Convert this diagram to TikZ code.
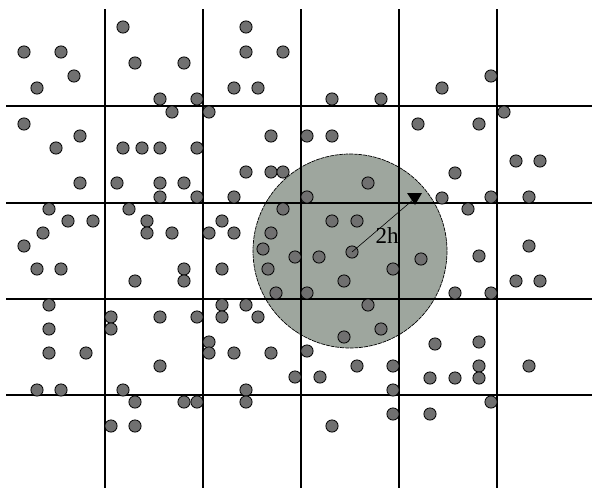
\documentclass[tikz,border=0pt]{standalone}
\usepackage{fontspec}
\setmainfont{Liberation Serif}
\definecolor{dotgray}{RGB}{112,112,112}
\definecolor{discgray}{RGB}{158,166,158}
\tikzset{
  gridline/.style={line width=1.1pt, black},
  particle/.style={fill=dotgray, draw=black, line width=0.8pt},
  disc/.style={fill=discgray, draw=black, line width=0.7pt, dash pattern=on 4pt off 0.8pt},
  radius line/.style={line width=0.6pt},
  tiphead/.style={fill=black},
  labeltext/.style={font=\fontsize{23}{25}\selectfont, inner sep=0pt}
}
\begin{document}
\begin{tikzpicture}[x=1pt,y=-1pt]
\useasboundingbox (0,0) rectangle (592,488);
\fill[white] (0,0) rectangle (592,488);
% kernel disc
\draw[disc] (350,251) circle[radius=97];
% grid
\foreach \gx in {105,203,301,399,497}
  \draw[gridline] (\gx,9) -- (\gx,488);
\foreach \gy in {106,203,299,395}
  \draw[gridline] (6,\gy) -- (592,\gy);
% particles
\foreach \px/\py in {
123/27,246/27,
24/52,61/52,246/52,283/52,
135/63,184/63,
74/76,491/76,
37/88,234/88,258/88,442/88,
160/99,197/99,332/99,381/99,
172/112,209/112,504/112,
24/124,418/124,479/124,
80/136,271/136,307/136,332/136,
56/148,123/148,142/148,160/148,197/148,
516/161,540/161,
246/172,271/172,283/172,455/173,
80/183,117/183,160/183,184/183,368/183,
160/197,197/197,234/197,307/197,442/198,491/197,529/197,
49/209,129/209,283/209,468/209,
68/221,93/221,147/221,222/221,332/221,357/221,
43/233,147/233,172/233,209/233,234/233,271/233,
24/246,263/249,352/252,529/246,
295/257,319/257,421/259,479/256,
37/269,61/269,184/269,222/269,268/269,393/269,
135/281,184/281,344/281,516/281,540/281,
276/293,307/293,455/293,491/293,
49/305,222/305,246/305,368/305,
111/317,160/317,197/317,222/317,258/317,
49/329,111/329,381/329,
344/337,209/342,479/342,435/344,
49/353,86/353,209/353,234/353,271/353,307/351,
160/366,357/366,393/366,479/366,529/366,
295/377,320/377,430/378,455/378,479/378,
37/390,61/390,123/390,246/390,393/390,
135/402,184/402,197/402,246/402,491/402,
393/414,430/414,
111/426,135/426,332/426}
  \draw[particle] (\px,\py) circle[radius=6.1];
% radius arrow
\coordinate (c) at (352,252);
\coordinate (tip) at (414,199);
\draw[radius line] (c) -- (tip);
\fill[tiphead] (tip) ++(-7,-6) -- ++(15,0) -- (415,205) -- cycle;
\node[labeltext] (lbl) at (387,236) {2h};
\end{tikzpicture}
\end{document}
